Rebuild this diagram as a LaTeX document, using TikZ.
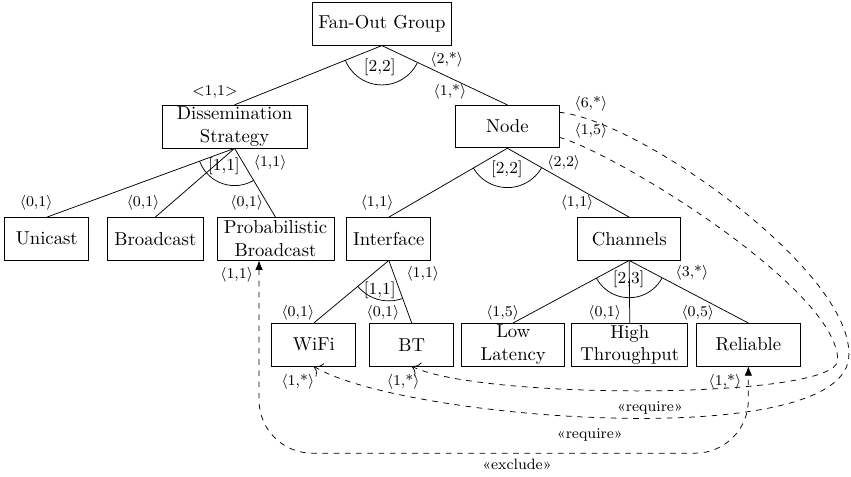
\documentclass[tikz,border=0pt]{standalone}
\usepackage{fontspec}
\usetikzlibrary{calc,arrows.meta}

\tikzset{
  feature/.style={draw, align=center, minimum height=0.8cm, minimum width=1.58cm, inner xsep=3.33pt, inner ysep=1pt},
  card/.style={font=\footnotesize, inner sep=1pt},
  grp/.style={font=\small, inner sep=1pt},
  req/.style={dashed, -{To[scale=1.6]}},
  excl/.style={dashed, {Latex[length=5pt,width=4pt]}-{Latex[length=5pt,width=4pt]}, rounded corners=1cm}
}

\begin{document}
\begin{tikzpicture}
    \useasboundingbox (0,0) rectangle (16,-8.95);

    \node[feature] (FOG) at (7.18,-0.45) {Fan-Out Group};
    \node[feature, minimum width=2.73cm] (DS) at (4.41,-2.38) {Dissemination\\Strategy};
    \node[feature, minimum width=1.94cm] (Node) at (9.54,-2.38) {Node};
    \node[feature] (Unicast) at (0.88,-4.49) {Unicast};
    \node[feature, minimum width=1.82cm] (Broadcast) at (2.92,-4.49) {Broadcast};
    \node[feature, minimum width=2.2cm] (PB) at (5.18,-4.49) {Probabilistic\\Broadcast};
    \node[feature] (Interface) at (7.31,-4.49) {Interface};
    \node[feature, minimum width=1.94cm] (Channels) at (11.83,-4.49) {Channels};
    \node[feature] (WiFi) at (5.90,-6.48) {WiFi};
    \node[feature] (BT) at (7.74,-6.48) {BT};
    \node[feature, minimum width=1.94cm] (LL) at (9.65,-6.48) {Low\\Latency};
    \node[feature, minimum width=2.18cm] (HT) at (11.84,-6.48) {High\\Throughput};
    \node[feature, minimum width=1.94cm] (Reliable) at (14.07,-6.48) {Reliable};

    \draw (FOG.south) -- (DS.north);
    \draw (FOG.south) -- (Node.north);
    \draw (DS.south) -- (Unicast.north);
    \draw (DS.south) -- (Broadcast.north);
    \draw (DS.south) -- (PB.north);
    \draw (Node.south) -- (Interface.north);
    \draw (Node.south) -- (Channels.north);
    \draw (Interface.south) -- (WiFi.north);
    \draw (Interface.south) -- (BT.north);
    \draw (Channels.south) -- (LL.north);
    \draw (Channels.south) -- (HT.north);
    \draw (Channels.south) -- (Reliable.north);

    \begin{scope}
        \clip (FOG.south) -- (DS.north) -- (Node.north) -- cycle;
        \draw (FOG.south) circle (0.74);
    \end{scope}
    \begin{scope}
        \clip (DS.south) -- (Unicast.north) -- (PB.north) -- cycle;
        \draw (DS.south) circle (0.7);
    \end{scope}
    \begin{scope}
        \clip (Node.south) -- (Interface.north) -- (Channels.north) -- cycle;
        \draw (Node.south) circle (0.74);
    \end{scope}
    \begin{scope}
        \clip (Interface.south) -- (WiFi.north) -- (BT.north) -- cycle;
        \draw (Interface.south) circle (0.76);
    \end{scope}
    \begin{scope}
        \clip (Channels.south) -- (LL.north) -- (Reliable.north) -- cycle;
        \draw (Channels.south) circle (0.7);
    \end{scope}

    \node[grp] at (7.14,-1.26) {[2,2]};
    \node[grp] at (4.21,-3.12) {[1,1]};
    \node[grp] at (9.53,-3.18) {[2,2]};
    \node[grp] at (7.14,-5.45) {[1,1]};
    \node[grp] at (11.82,-5.26) {[2,3]};

    \node[card] at (8.40,-1.13) {$\langle$2,*$\rangle$};
    \node[card] at (8.46,-1.73) {$\langle$1,*$\rangle$};
    \node[card] at (4.04,-1.73) {$<$1,1$>$};
    \node[card] at (5.08,-3.06) {$\langle$1,1$\rangle$};
    \node[card] at (10.60,-3.06) {$\langle$2,2$\rangle$};
    \node[card] at (0.68,-3.82) {$\langle$0,1$\rangle$};
    \node[card] at (2.69,-3.82) {$\langle$0,1$\rangle$};
    \node[card] at (4.64,-3.82) {$\langle$0,1$\rangle$};
    \node[card] at (7.09,-3.82) {$\langle$1,1$\rangle$};
    \node[card] at (10.85,-3.82) {$\langle$1,1$\rangle$};
    \node[card] at (7.95,-5.15) {$\langle$1,1$\rangle$};
    \node[card] at (13.01,-5.13) {$\langle$3,*$\rangle$};
    \node[card] at (5.60,-5.88) {$\langle$0,1$\rangle$};
    \node[card] at (7.20,-5.88) {$\langle$0,1$\rangle$};
    \node[card] at (9.45,-5.88) {$\langle$1,5$\rangle$};
    \node[card] at (11.37,-5.88) {$\langle$0,1$\rangle$};
    \node[card] at (13.12,-5.88) {$\langle$0,5$\rangle$};
    \node[card] at (4.45,-5.17) {$\langle$1,1$\rangle$};
    \node[card] at (5.60,-7.18) {$\langle$1,*$\rangle$};
    \node[card] at (7.58,-7.18) {$\langle$1,*$\rangle$};
    \node[card] at (13.63,-7.18) {$\langle$1,*$\rangle$};
    \node[card] at (11.11,-1.95) {$\langle$6,*$\rangle$};
    \node[card] at (11.11,-2.46) {$\langle$1,5$\rangle$};

    \coordinate (n6) at (10.51,-2.11);
    \coordinate (n15) at (10.51,-2.58);
    \coordinate (turnA) at (15.96,-6.67);
    \coordinate (turnB) at (15.75,-6.77);
    \coordinate (pbend) at ($(PB.south)+(-0.31,0)$);
    \coordinate (exclbot) at (9.5,-8.52);

    \draw[req] (n6) .. controls (12.03,-2.26) and (16.0,-5.08) .. (turnA)
        .. controls (15.96,-8.55) and (7.52,-7.89) .. (WiFi.south);
    \draw[req] (n15) .. controls (11.65,-2.91) and (15.75,-5.45) .. (turnB)
        .. controls (15.75,-7.52) and (9.02,-7.52) .. (BT.south);
    \draw[excl] (pbend) |- (exclbot) -| (Reliable.south);

    \node[card] at (12.22,-7.67) {«require»};
    \node[card] at (11.09,-8.18) {«require»};
    \node[card] at (9.72,-8.74) {«exclude»};
\end{tikzpicture}
\end{document}
